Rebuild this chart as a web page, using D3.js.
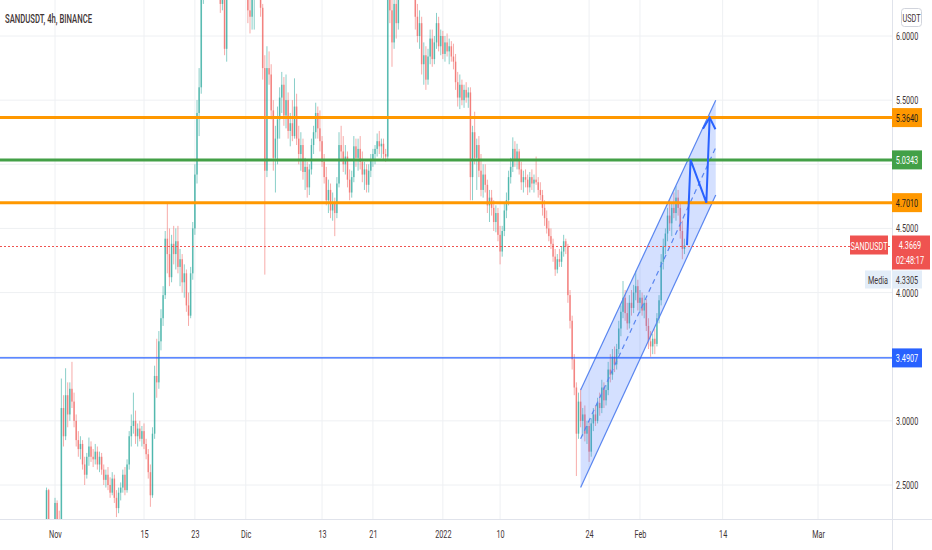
<!DOCTYPE html>
<html>
<head>
<meta charset="utf-8">
<script src="https://cdn.jsdelivr.net/npm/d3@7"></script>
<style>
body { margin: 0; background: #fff; }
svg { display: block; font-family: Roboto, "Noto Sans", sans-serif; }
</style>
</head>
<body>
<svg id="chart" width="932" height="550"></svg>
<script>
// 8h candles, first one opens 30 Oct 16:00 UTC
const candleStart = "2021-10-30T16:00:00Z";
const candleHours = 8;

// [open, high, low, close]
const ohlc = [
  [2.10,2.48,2.05,2.46],[2.46,2.47,2.05,2.12],[2.12,2.20,1.95,2.05],[2.05,2.18,1.98,2.10],[2.10,2.40,2.05,2.36],
  [2.36,2.38,2.18,2.22],[2.22,2.30,2.10,2.20],[2.20,3.33,2.18,3.10],[3.10,3.20,2.80,2.88],[2.88,3.41,2.85,3.20],
  [3.20,3.30,2.95,3.05],[3.05,3.30,3.00,3.25],[3.25,3.46,3.10,3.15],[3.15,3.22,2.95,3.00],[3.00,3.05,2.80,2.85],
  [2.85,2.92,2.72,2.78],[2.78,2.88,2.70,2.82],[2.82,2.85,2.62,2.66],[2.66,2.72,2.50,2.58],[2.58,2.75,2.55,2.72],
  [2.72,2.87,2.65,2.80],[2.80,2.84,2.68,2.72],[2.72,2.78,2.64,2.70],[2.70,2.82,2.66,2.76],[2.76,2.80,2.62,2.66],
  [2.66,2.76,2.60,2.72],[2.72,2.75,2.58,2.62],[2.62,2.66,2.50,2.54],[2.54,2.62,2.48,2.58],[2.58,2.64,2.46,2.50],
  [2.50,2.56,2.40,2.44],[2.44,2.60,2.42,2.55],[2.55,2.58,2.36,2.40],[2.40,2.46,2.25,2.32],[2.32,2.48,2.28,2.44],
  [2.44,2.52,2.38,2.48],[2.48,2.62,2.44,2.58],[2.58,2.64,2.42,2.46],[2.46,2.70,2.44,2.66],[2.66,2.92,2.62,2.88],
  [2.88,3.05,2.80,2.96],[2.96,3.22,2.90,3.00],[3.00,3.08,2.82,2.88],[2.88,2.98,2.80,2.94],[2.94,3.00,2.84,2.86],
  [2.86,2.96,2.80,2.92],[2.92,2.98,2.78,2.82],[2.82,2.86,2.70,2.74],[2.74,2.78,2.55,2.60],[2.60,2.66,2.33,2.42],
  [2.42,2.95,2.40,2.90],[2.90,3.43,2.86,3.35],[3.35,3.64,3.18,3.30],[3.30,3.70,3.25,3.62],[3.62,3.87,3.55,3.80],
  [3.80,4.05,3.74,3.98],[3.98,4.48,3.95,4.42],[4.42,4.70,4.15,4.30],[4.30,4.50,4.05,4.12],[4.12,4.45,4.08,4.38],
  [4.38,4.52,4.22,4.30],[4.30,4.50,4.18,4.40],[4.40,4.52,4.15,4.20],[4.20,4.34,4.05,4.26],[4.26,4.30,4.00,4.08],
  [4.08,4.22,3.96,4.15],[4.15,4.18,3.85,3.90],[3.90,4.00,3.74,3.82],[3.82,4.20,3.80,4.15],[4.15,4.55,4.10,4.50],
  [4.50,5.00,4.45,4.92],[4.92,5.50,4.85,5.40],[5.40,5.75,5.22,5.60],[5.60,6.40,5.55,6.30],[6.30,6.90,6.25,6.80],
  [6.80,7.30,6.70,7.20],[7.20,7.60,6.90,7.10],[7.10,7.90,7.00,7.80],[7.80,8.40,7.50,7.70],[7.70,7.90,7.10,7.20],
  [7.20,7.40,6.80,6.90],[6.90,7.10,6.50,6.60],[6.60,6.70,6.18,6.25],[6.25,6.60,6.20,6.50],[6.50,6.55,5.85,5.90],
  [5.90,6.40,5.80,6.35],[6.35,6.80,6.30,6.70],[6.70,7.10,6.60,7.00],[7.00,7.30,6.80,6.90],[6.90,7.00,6.50,6.60],
  [6.60,6.90,6.45,6.80],[6.80,6.95,6.50,6.55],[6.55,6.70,6.35,6.45],[6.45,6.60,6.32,6.50],[6.50,6.55,6.30,6.35],
  [6.35,6.45,6.10,6.20],[6.20,6.35,6.02,6.15],[6.15,6.40,6.05,6.30],[6.30,6.50,6.05,6.45],[6.45,6.70,6.35,6.60],
  [6.60,6.70,6.30,6.40],[6.40,6.50,6.15,6.22],[6.22,6.25,5.66,5.75],[5.75,5.85,4.14,4.95],[4.95,5.92,4.90,5.75],
  [5.75,5.88,5.62,5.70],[5.70,5.78,5.35,5.42],[5.42,5.50,4.95,5.05],[5.05,5.30,4.78,5.20],[5.20,5.45,5.00,5.35],
  [5.35,5.60,5.20,5.52],[5.52,5.72,5.40,5.62],[5.62,5.68,5.30,5.38],[5.38,5.70,5.28,5.50],[5.50,5.56,5.20,5.26],
  [5.26,5.40,5.14,5.32],[5.32,5.50,5.18,5.22],[5.22,5.67,5.20,5.45],[5.45,5.55,5.15,5.20],[5.20,5.30,5.00,5.08],
  [5.08,5.25,4.95,5.15],[5.15,5.20,4.88,4.94],[4.94,5.05,4.80,4.98],[4.98,5.02,4.74,4.82],[4.82,5.00,4.76,4.96],
  [4.96,5.20,4.92,5.15],[5.15,5.30,5.08,5.25],[5.25,5.48,5.20,5.40],[5.40,5.45,5.20,5.28],[5.28,5.42,5.10,5.18],
  [5.18,5.22,4.98,5.02],[5.02,5.08,4.85,4.90],[4.90,4.98,4.68,4.72],[4.72,4.88,4.62,4.80],[4.80,4.85,4.58,4.64],
  [4.64,4.78,4.56,4.70],[4.70,4.74,4.44,4.62],[4.62,4.90,4.58,4.85],[4.85,5.25,4.82,5.15],[5.15,5.30,5.02,5.10],
  [5.10,5.22,4.94,5.00],[5.00,5.15,4.92,5.06],[5.06,5.10,4.82,4.88],[4.88,4.96,4.72,4.78],[4.78,4.95,4.74,4.90],
  [4.90,5.22,4.86,5.14],[5.14,5.20,4.98,5.05],[5.05,5.20,4.95,5.12],[5.12,5.22,4.96,5.02],[5.02,5.10,4.86,4.92],
  [4.92,5.02,4.80,4.96],[4.96,5.00,4.78,4.84],[4.84,5.00,4.78,4.95],[4.95,5.08,4.90,5.04],[5.04,5.12,4.98,5.08],
  [5.08,5.15,5.00,5.12],[5.12,5.24,5.06,5.18],[5.18,5.26,5.08,5.14],[5.14,5.20,5.05,5.16],[5.16,5.20,5.04,5.08],
  [5.08,5.12,5.02,5.06],[5.06,6.40,5.04,6.30],[6.30,6.60,6.10,6.20],[6.20,6.35,5.76,5.95],[5.95,6.30,5.90,6.25],
  [6.25,6.40,5.98,6.10],[6.10,6.50,6.05,6.45],[6.45,6.80,6.40,6.70],[6.70,6.90,6.50,6.60],[6.60,7.00,6.55,6.90],
  [6.90,7.10,6.60,6.70],[6.70,6.85,6.45,6.55],[6.55,6.75,6.40,6.60],[6.60,6.70,6.35,6.40],[6.40,6.50,6.05,6.15],
  [6.15,6.25,5.95,6.00],[6.00,6.20,5.90,6.10],[6.10,6.15,5.70,5.78],[5.78,5.95,5.62,5.85],[5.85,5.92,5.58,5.66],
  [5.66,5.90,5.62,5.84],[5.84,6.05,5.78,5.98],[5.98,6.05,5.76,5.82],[5.82,6.00,5.78,5.95],[5.95,6.18,5.90,6.10],
  [6.10,6.15,5.88,5.92],[5.92,6.05,5.85,6.00],[6.00,6.04,5.82,5.86],[5.86,6.00,5.80,5.95],[5.95,6.02,5.84,5.88],
  [5.88,5.98,5.78,5.92],[5.92,5.96,5.80,5.84],[5.84,5.94,5.74,5.80],[5.80,5.86,5.58,5.64],[5.64,5.72,5.45,5.52],
  [5.52,5.70,5.43,5.62],[5.62,5.66,5.46,5.50],[5.50,5.62,5.44,5.58],[5.58,5.64,5.48,5.52],[5.52,5.60,5.44,5.56],
  [5.56,5.60,4.72,4.90],[4.90,5.30,4.72,5.25],[5.25,5.41,5.00,5.05],[5.05,5.20,4.80,5.15],[5.15,5.22,4.90,4.95],
  [4.95,5.08,4.75,4.80],[4.80,5.00,4.74,4.92],[4.92,5.00,4.78,4.84],[4.84,4.88,4.62,4.68],[4.68,4.80,4.55,4.74],
  [4.74,4.80,4.60,4.66],[4.66,4.72,4.48,4.55],[4.55,4.68,4.47,4.62],[4.62,4.66,4.40,4.45],[4.45,4.52,4.22,4.32],
  [4.32,4.52,4.28,4.48],[4.48,4.70,4.44,4.64],[4.64,4.78,4.58,4.72],[4.72,4.95,4.68,4.90],[4.90,5.05,4.85,4.98],
  [4.98,5.21,4.94,5.12],[5.12,5.18,4.98,5.04],[5.04,5.16,4.96,5.10],[5.10,5.12,4.92,4.96],[4.96,5.02,4.80,4.86],
  [4.86,4.95,4.78,4.90],[4.90,4.96,4.82,4.88],[4.88,4.92,4.76,4.82],[4.82,4.94,4.78,4.90],[4.90,4.96,4.80,4.85],
  [4.85,4.92,4.78,4.88],[4.88,5.06,4.84,4.86],[4.86,4.90,4.74,4.80],[4.80,4.86,4.72,4.76],[4.76,4.80,4.60,4.66],
  [4.66,4.72,4.52,4.58],[4.58,4.64,4.46,4.50],[4.50,4.56,4.40,4.44],[4.44,4.50,4.34,4.38],[4.38,4.42,4.24,4.28],
  [4.28,4.34,4.13,4.18],[4.18,4.30,4.15,4.26],[4.26,4.34,4.20,4.24],[4.24,4.36,4.20,4.32],[4.32,4.45,4.28,4.40],
  [4.40,4.42,4.30,4.36],[4.36,4.38,3.92,3.98],[3.98,4.02,3.72,3.78],[3.78,3.82,3.40,3.48],[3.48,3.52,3.20,3.26],
  [3.26,3.30,2.57,2.90],[2.90,3.22,2.86,3.15],[3.15,3.25,2.95,3.00],[3.00,3.10,2.88,3.05],[3.05,3.12,2.84,2.90],
  [2.90,3.00,2.82,2.96],[2.96,3.00,2.68,2.76],[2.76,3.02,2.72,2.98],[2.98,3.10,2.92,3.05],[3.05,3.12,2.96,3.00],
  [3.00,3.18,2.98,3.14],[3.14,3.22,3.04,3.10],[3.10,3.32,3.06,3.26],[3.26,3.30,3.10,3.16],[3.16,3.28,3.12,3.24],
  [3.24,3.46,3.20,3.40],[3.40,3.52,3.30,3.36],[3.36,3.56,3.32,3.50],[3.50,3.58,3.38,3.44],[3.44,3.60,3.40,3.56],
  [3.56,3.78,3.52,3.72],[3.72,3.90,3.66,3.85],[3.85,4.09,3.80,3.96],[3.96,4.02,3.78,3.84],[3.84,3.92,3.71,3.76],
  [3.76,3.98,3.72,3.92],[3.92,4.02,3.82,3.88],[3.88,4.06,3.84,4.00],[4.00,4.17,3.94,4.05],[4.05,4.10,3.86,3.92],
  [3.92,4.02,3.84,3.96],[3.96,4.00,3.82,3.86],[3.86,3.98,3.80,3.92],[3.92,3.95,3.70,3.74],[3.74,3.80,3.56,3.62],
  [3.62,3.70,3.50,3.58],[3.58,3.68,3.52,3.64],[3.64,3.72,3.52,3.60],[3.60,3.84,3.58,3.80],[3.80,3.98,3.76,3.94],
  [3.94,4.30,3.90,4.24],[4.24,4.42,4.18,4.36],[4.36,4.50,4.30,4.46],[4.46,4.66,4.40,4.60],[4.60,4.72,4.48,4.54],
  [4.54,4.70,4.44,4.66],[4.66,4.78,4.58,4.62],[4.62,4.83,4.56,4.74],[4.74,4.80,4.60,4.66],[4.66,4.70,4.42,4.48],
  [4.48,4.56,4.26,4.34],[4.34,4.42,4.30,4.3669]
];

const dateTicks = ["2021-11-01","2021-11-15","2021-11-23","2021-12-01","2021-12-13","2021-12-21",
                   "2022-01-01","2022-01-10","2022-01-24","2022-02-01","2022-02-14","2022-03-01"];
const dateLabels = ["Nov","15","23","Dic","13","21","2022","10","24","Feb","14","Mar"];
const priceTicks = [2.5, 3.0, 3.5, 4.0, 4.5, 5.0, 5.5, 6.0];

// horizontal levels drawn on the chart
const levelPrices = [5.3640, 5.0343, 4.7010, 3.4907];
const lastPrice = 4.3669;
const lastCountdown = "02:48:17";
const mediaPrice = 4.3305;

// parallel channel and the projected path
const channelTimes = ["2022-01-22T16:00:00Z", "2022-02-12T22:00:00Z"];
const channelLower = [2.48, 4.76];
const channelUpper = [3.24, 5.50];
const pathTimes = ["2022-02-08T09:30:00Z", "2022-02-08T23:00:00Z", "2022-02-11T10:30:00Z", "2022-02-11T23:00:00Z"];
const pathPrices = [4.37, 5.0343, 4.7010, 5.3640];

const W = 932, H = 550, plotR = 892, plotB = 519;
const textCol = "#3f3536";
const squeeze = 0.66;

const svg = d3.select("#chart");

const x = d3.scaleUtc()
    .domain([new Date("2021-11-01T00:00:00Z"), new Date("2022-03-01T00:00:00Z")])
    .range([55, 818]);
const y = d3.scaleLinear().domain([2.5, 6.0]).range([485, 36]);

svg.append("defs").append("clipPath").attr("id", "plot")
  .append("rect").attr("x", 0).attr("y", 0).attr("width", plotR).attr("height", plotB);

// grid
const grid = svg.append("g");
grid.selectAll(".hg").data(priceTicks).join("line")
    .attr("x1", 0).attr("x2", plotR)
    .attr("y1", d => y(d)).attr("y2", d => y(d))
    .attr("stroke", "#eef0f3").attr("stroke-width", 1);
grid.selectAll(".vg").data(dateTicks).join("line")
    .attr("x1", d => x(new Date(d))).attr("x2", d => x(new Date(d)))
    .attr("y1", 0).attr("y2", plotB)
    .attr("stroke", "#eef0f3").attr("stroke-width", 1);

const plot = svg.append("g").attr("clip-path", "url(#plot)");

// candles
const t0 = new Date(candleStart).getTime();
const candles = ohlc.map((c, i) => ({
  t: new Date(t0 + i * candleHours * 3600e3),
  o: c[0], h: c[1], l: c[2], c: c[3]
}));
const up = "rgba(38,166,154,0.6)", down = "rgba(239,83,80,0.55)";
const cg = plot.append("g");
cg.selectAll("line").data(candles).join("line")
    .attr("x1", d => x(d.t)).attr("x2", d => x(d.t))
    .attr("y1", d => y(d.h)).attr("y2", d => y(d.l))
    .attr("stroke", d => d.c >= d.o ? up : down).attr("stroke-width", 0.9);
cg.selectAll("rect").data(candles).join("rect")
    .attr("x", d => x(d.t) - 0.8).attr("width", 1.6)
    .attr("y", d => y(Math.max(d.o, d.c)))
    .attr("height", d => Math.max(1, Math.abs(y(d.o) - y(d.c))))
    .attr("fill", d => d.c >= d.o ? up : down);

// channel
const ct = channelTimes.map(d => new Date(d));
const chanPoly = [[ct[0], channelUpper[0]], [ct[1], channelUpper[1]], [ct[1], channelLower[1]], [ct[0], channelLower[0]]];
plot.append("path")
    .attr("d", d3.line().x(d => x(d[0])).y(d => y(d[1]))(chanPoly) + "Z")
    .attr("fill", "rgba(41,98,255,0.2)");
[channelUpper, channelLower].forEach(s => {
  plot.append("line")
      .attr("x1", x(ct[0])).attr("y1", y(s[0]))
      .attr("x2", x(ct[1])).attr("y2", y(s[1]))
      .attr("stroke", "#5a86f0").attr("stroke-width", 1.2);
});
plot.append("line")
    .attr("x1", x(ct[0])).attr("y1", y((channelUpper[0] + channelLower[0]) / 2))
    .attr("x2", x(ct[1])).attr("y2", y((channelUpper[1] + channelLower[1]) / 2))
    .attr("stroke", "#5a86f0").attr("stroke-width", 1.2).attr("stroke-dasharray", "5,4");

// level lines
const levelColors = ["#ff9800", "#43a047", "#ff9800", "#2962ff"];
const levelWidths = [3, 3, 3, 1.3];
plot.selectAll(".lvl").data(levelPrices).join("line")
    .attr("x1", 0).attr("x2", plotR)
    .attr("y1", d => y(d)).attr("y2", d => y(d))
    .attr("stroke", (d, i) => levelColors[i]).attr("stroke-width", (d, i) => levelWidths[i]);

// last price dotted line
const ly = y(lastPrice);
plot.append("line")
    .attr("x1", 0).attr("x2", plotR)
    .attr("y1", Math.round(ly) + 0.5).attr("y2", Math.round(ly) + 0.5)
    .attr("stroke", "#ef5350").attr("stroke-width", 1).attr("stroke-dasharray", "2,2")
    .attr("shape-rendering", "crispEdges");

// projected path with arrow
const pts = pathTimes.map((t, i) => [x(new Date(t)), y(pathPrices[i])]);
plot.append("path").attr("d", d3.line()(pts))
    .attr("fill", "none").attr("stroke", "#2962ff").attr("stroke-width", 2).attr("stroke-linejoin", "miter");
const [ax, ay] = pts[pts.length - 1], [bx, by] = pts[pts.length - 2];
const ang = Math.atan2(ay - by, ax - bx);
const wing = a => [ax - 13 * Math.cos(ang + a), ay - 13 * Math.sin(ang + a)];
plot.append("path").attr("d", d3.line()([wing(0.5), [ax, ay], wing(-0.5)]))
    .attr("fill", "none").attr("stroke", "#2962ff").attr("stroke-width", 2);

// axis frame
svg.append("line").attr("x1", plotR + 0.5).attr("x2", plotR + 0.5).attr("y1", 0).attr("y2", H)
    .attr("stroke", "#e0e3eb");
svg.append("line").attr("x1", 0).attr("x2", W).attr("y1", plotB + 0.5).attr("y2", plotB + 0.5)
    .attr("stroke", "#e0e3eb");

// price axis; ticks sitting under a level tag are hidden, as on the chart
const covered = p => levelPrices.some(l => Math.abs(y(l) - y(p)) < 12);
const yAxis = svg.append("g").attr("transform", `translate(${plotR},0)`)
    .call(d3.axisRight(y).tickValues(priceTicks.filter(p => !covered(p)))
      .tickFormat(d3.format(".4f")).tickSize(0));
yAxis.select(".domain").remove();
yAxis.selectAll("text")
    .attr("x", 0).attr("transform", `translate(4,0) scale(${squeeze},1)`)
    .attr("fill", textCol).style("font-size", "11px").style("font-family", "Roboto, sans-serif");

// time axis
const xAxis = svg.append("g").attr("transform", `translate(0,${plotB})`)
    .call(d3.axisBottom(x).tickValues(dateTicks.map(d => new Date(d)))
      .tickFormat((d, i) => dateLabels[i]).tickSize(0));
xAxis.select(".domain").remove();
xAxis.selectAll("text")
    .attr("y", 11).attr("transform", `scale(${squeeze},1)`)
    .attr("fill", textCol).style("font-size", "11px").style("font-family", "Roboto, sans-serif");

function tag(px, py, txt, col, anchor) {
  return svg.append("text").attr("transform", `translate(${px},${py}) scale(${squeeze},1)`)
      .attr("text-anchor", anchor || "middle").attr("fill", col)
      .style("font-size", "11px").text(txt);
}

// level tags on the axis
const tagText = ["#1d1d1d", "#ffffff", "#1d1d1d", "#ffffff"];
levelPrices.forEach((p, i) => {
  svg.append("rect").attr("x", plotR).attr("y", y(p) - 9.5).attr("width", 30).attr("height", 19)
      .attr("fill", levelColors[i]);
  tag(plotR + 15, y(p) + 4, p.toFixed(4), tagText[i]);
});

// last price tags
svg.append("rect").attr("x", 850).attr("y", ly - 10).attr("width", 38).attr("height", 19).attr("fill", "#ef5350");
tag(869, ly + 4, "SANDUSDT", "#fff");
svg.append("rect").attr("x", plotR).attr("y", ly - 10).attr("width", 38).attr("height", 34).attr("fill", "#ef5350");
tag(plotR + 18, ly + 3, lastPrice.toFixed(4), "#fff");
tag(plotR + 18, ly + 18, lastCountdown, "#fff");

// media tags
const my = ly + 34;
svg.append("rect").attr("x", 865).attr("y", my - 9).attr("width", 26).attr("height", 18).attr("fill", "#e3edf8");
tag(878, my + 4, "Media", textCol);
svg.append("rect").attr("x", plotR).attr("y", my - 9).attr("width", 30).attr("height", 18).attr("fill", "#e3edf8");
tag(plotR + 15, my + 4, mediaPrice.toFixed(4), textCol);

// currency box
svg.append("rect").attr("x", 901.5).attr("y", 8.5).attr("width", 20).attr("height", 18).attr("rx", 3)
    .attr("fill", "#fff").attr("stroke", "#d1d4dc");
tag(911.5, 21.5, "USDT", textCol);

// title
svg.append("text").attr("x", 5).attr("y", 23)
    .attr("textLength", 87).attr("lengthAdjust", "spacingAndGlyphs")
    .attr("fill", textCol).style("font-size", "12px").style("font-weight", 500)
    .text("SANDUSDT, 4h, BINANCE");
</script>
</body>
</html>
